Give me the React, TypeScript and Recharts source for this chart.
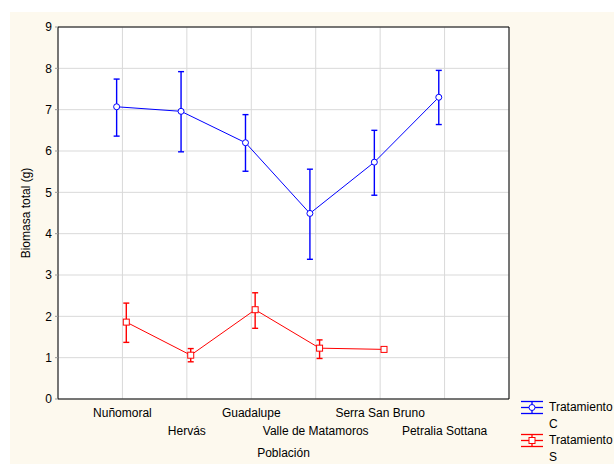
import {
  LineChart,
  Line,
  XAxis,
  YAxis,
  CartesianGrid,
  ErrorBar,
  ReferenceArea,
} from 'recharts';

// Poblaciones en el eje X (orden de izquierda a derecha)
const poblaciones = [
  'Nuñomoral',
  'Hervás',
  'Guadalupe',
  'Valle de Matamoros',
  'Serra San Bruno',
  'Petralia Sottana',
];

const tratamientos = ['Tratamiento C', 'Tratamiento S'];
const colores = ['#0000ff', '#ff0000'];

// Tratamiento C: media y límites de la barra de error
const mediaC = [7.07, 6.96, 6.2, 4.49, 5.73, 7.3];
const limSupC = [7.74, 7.92, 6.88, 5.56, 6.5, 7.95];
const limInfC = [6.36, 5.98, 5.51, 3.38, 4.93, 6.64];

// Tratamiento S (sin dato en Petralia Sottana, sin barra en Serra San Bruno)
const mediaS = [1.86, 1.06, 2.16, 1.23, 1.2];
const limSupS: (number | null)[] = [2.32, 1.22, 2.57, 1.43, null];
const limInfS: (number | null)[] = [1.37, 0.9, 1.71, 0.98, null];

const yTicks = [0, 1, 2, 3, 4, 5, 6, 7, 8, 9];

// pequeño desplazamiento horizontal para que no se solapen las series
const DESPL_C = -0.09;
const DESPL_S = 0.06;

const serieC = mediaC.map((m, i) => ({
  x: i + 1 + DESPL_C,
  y: m,
  err: [m - limInfC[i], limSupC[i] - m],
}));

const serieS = mediaS.map((m, i) => {
  const sup = limSupS[i];
  const inf = limInfS[i];
  return {
    x: i + 1 + DESPL_S,
    y: m,
    err: sup != null && inf != null ? [m - inf, sup - m] : null,
  };
});
const errS = serieS.filter((d) => d.err != null);

const FUENTE = 'Arial, "Liberation Sans", sans-serif';
const W = 614;
const H = 464;

const TickX = (props: any) => {
  const { x, y, payload } = props;
  const i = Math.round(payload.value) - 1;
  const dy = i % 2 === 0 ? 18 : 35.5;
  return (
    <text x={x} y={y + dy} textAnchor="middle" fontSize={12} fontFamily={FUENTE} fill="#000">
      {poblaciones[i]}
    </text>
  );
};

const Cuadrado = (props: any) => {
  const { cx, cy, stroke, index } = props;
  if (cx == null || cy == null) return <g key={index} />;
  return (
    <rect key={index} x={cx - 3} y={cy - 3} width={6} height={6} fill="#fff" stroke={stroke} strokeWidth={1} />
  );
};

const Circulo = (props: any) => {
  const { cx, cy, stroke, index } = props;
  if (cx == null || cy == null) return <g key={index} />;
  return <circle key={index} cx={cx} cy={cy} r={3} fill="#fff" stroke={stroke} strokeWidth={1} />;
};

const IconoLeyenda = ({ color, marca }: { color: string; marca: 'circulo' | 'cuadrado' }) => (
  <svg width={22} height={17} style={{ display: 'block', flex: 'none' }}>
    <line x1={0} y1={2.5} x2={22} y2={2.5} stroke={color} strokeWidth={1.3} />
    <line x1={0} y1={8.5} x2={22} y2={8.5} stroke={color} strokeWidth={1.3} />
    <line x1={0} y1={14.5} x2={22} y2={14.5} stroke={color} strokeWidth={1.3} />
    <line x1={11} y1={2.5} x2={11} y2={14.5} stroke={color} strokeWidth={1.3} />
    {marca === 'circulo' ? (
      <circle cx={11} cy={8.5} r={3} fill="#fff" stroke={color} />
    ) : (
      <rect x={8} y={5.5} width={6} height={6} fill="#fff" stroke={color} />
    )}
  </svg>
);

export default function App() {
  return (
    <div
      style={{
        position: 'absolute',
        left: 0,
        top: 0,
        width: W,
        height: H,
        background: '#fff',
        overflow: 'hidden',
        fontFamily: FUENTE,
      }}
    >
      <div
        style={{ position: 'absolute', left: 10, top: 12, right: 0, bottom: 0, background: '#fdf9ee' }}
      />
      <div style={{ position: 'absolute', left: 0, top: 0 }}>
        <LineChart width={W} height={H} margin={{ top: 27, right: 105, bottom: 25, left: 18 }}>
          <CartesianGrid stroke="#d9d9d9" strokeWidth={1} fill="#fff" fillOpacity={1} />
          <XAxis
            type="number"
            dataKey="x"
            domain={[0, 7]}
            ticks={[1, 2, 3, 4, 5, 6]}
            allowDataOverflow
            height={40}
            axisLine={false}
            tickLine={false}
            tickSize={0}
            tickMargin={0}
            tick={<TickX />}
            interval={0}
            label={{
              content: (p: any) => {
                const vb = p.viewBox;
                return (
                  <text
                    x={vb.x + vb.width / 2}
                    y={vb.y + 58}
                    textAnchor="middle"
                    fontSize={12}
                    fontFamily={FUENTE}
                    fill="#000"
                  >
                    Población
                  </text>
                );
              },
            }}
          />
          <YAxis
            type="number"
            domain={[0, 9]}
            ticks={yTicks}
            width={40}
            axisLine={false}
            tickLine={{ stroke: '#999' }}
            tickSize={3}
            tickMargin={3}
            tick={{ fontSize: 12, fontFamily: FUENTE, fill: '#000' }}
            label={{
              content: (p: any) => {
                const vb = p.viewBox;
                const cx = vb.x + 8;
                const cy = vb.y + vb.height / 2;
                return (
                  <text
                    x={cx}
                    y={cy}
                    transform={`rotate(-90 ${cx} ${cy})`}
                    textAnchor="middle"
                    dominantBaseline="central"
                    fontSize={12}
                    fontFamily={FUENTE}
                    fill="#000"
                  >
                    Biomasa total (g)
                  </text>
                );
              },
            }}
          />
          <ReferenceArea x1={0} x2={7} y1={0} y2={9} fill="none" stroke="#000" strokeWidth={1} />

          <Line
            data={serieC}
            dataKey="y"
            name={tratamientos[0]}
            stroke={colores[0]}
            strokeWidth={1}
            dot={(p: any) => <Circulo {...p} key={`c-${p.index}`} />}
            activeDot={false}
            isAnimationActive={false}
          >
            <ErrorBar dataKey="err" direction="y" width={3} stroke={colores[0]} strokeWidth={1.4} isAnimationActive={false} />
          </Line>

          {/* barras de error de S en una serie aparte: el último punto no tiene barra */}
          <Line
            data={errS}
            dataKey="y"
            stroke="none"
            dot={false}
            activeDot={false}
            legendType="none"
            isAnimationActive={false}
          >
            <ErrorBar dataKey="err" direction="y" width={3} stroke={colores[1]} strokeWidth={1.4} isAnimationActive={false} />
          </Line>
          <Line
            data={serieS}
            dataKey="y"
            name={tratamientos[1]}
            stroke={colores[1]}
            strokeWidth={1}
            dot={(p: any) => <Cuadrado {...p} key={`s-${p.index}`} />}
            activeDot={false}
            isAnimationActive={false}
          />
        </LineChart>
      </div>

      {/* leyenda */}
      <div style={{ position: 'absolute', left: 521, top: 399 }}>
        {tratamientos.map((t, i) => (
          <div key={t} style={{ display: 'flex', alignItems: 'flex-start', height: 33 }}>
            <IconoLeyenda color={colores[i]} marca={i === 0 ? 'circulo' : 'cuadrado'} />
            <div
              style={{
                marginLeft: 6,
                width: 66,
                fontSize: 12,
                lineHeight: '16.5px',
                color: '#000',
                whiteSpace: 'normal',
              }}
            >
              {t}
            </div>
          </div>
        ))}
      </div>
    </div>
  );
}
